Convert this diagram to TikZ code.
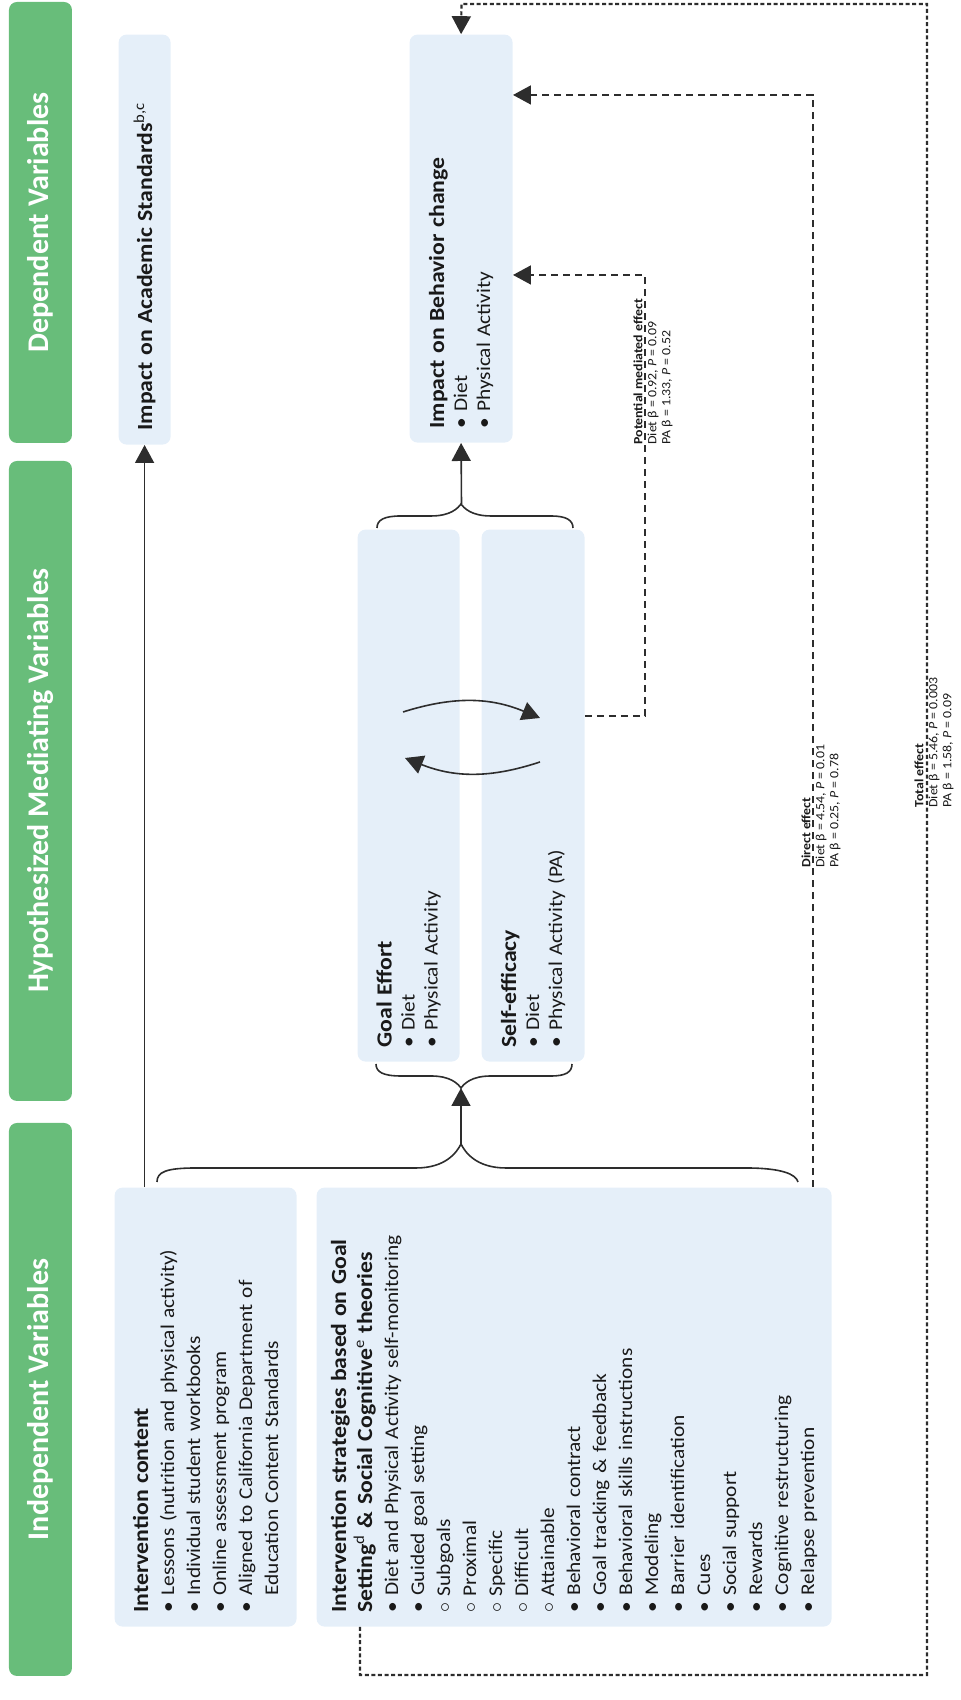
\documentclass[tikz,border=0pt]{standalone}
\usepackage{fontspec}
\setmainfont{Carlito}[FakeStretch=1.1]
\newfontfamily\hdrfont{Carlito}
\usetikzlibrary{arrows.meta}

\definecolor{hdrgreen}{RGB}{104,189,122}
\definecolor{boxblue}{RGB}{229,239,249}
\definecolor{inkgray}{RGB}{45,45,45}

\tikzstyle{header} = [rectangle, rounded corners=4pt, fill=hdrgreen, text=white, inner sep=0pt,
minimum height=31.5pt, font=\hdrfont\fontsize{15}{17}\selectfont\bfseries]
\tikzstyle{varbox} = [rectangle, rounded corners=4pt, fill=boxblue, anchor=south west, align=left,
inner xsep=7pt, inner ysep=0pt, text=black!90, font=\fontsize{9.7}{13}\selectfont]
\tikzstyle{smallbox} = [varbox, font=\fontsize{9.7}{11.5}\selectfont]
\tikzstyle{stat} = [anchor=west, align=left, inner sep=0pt, text=black!90, font=\fontsize{6.3}{7}\selectfont]
\tikzstyle{arrow} = [line width=0.8pt, draw=inkgray, -{Triangle[length=9pt, width=9.5pt]}]
\tikzstyle{effect} = [line width=0.9pt, draw=inkgray, dash pattern=on 3.5pt off 2.5pt, -{Triangle[length=9pt, width=9.5pt]}]
\tikzstyle{totaleffect} = [effect, line width=1.1pt, dash pattern=on 2pt off 1.3pt]
\tikzstyle{brace} = [line width=0.8pt, draw=inkgray]

\newcommand{\ttl}[1]{\mbox{\fontsize{10.8}{13}\selectfont\bfseries #1}}
\newcommand{\bul}{\textbullet\ }
\newcommand{\subbul}{$\circ$\ }

\begin{document}
\begin{tikzpicture}[x=0.5pt, y=0.5pt, rotate=90, transform shape]
\useasboundingbox (0,0) rectangle (1700,961);

% Column headers
\node (hdrIV) [header, minimum width=276.5pt] at (300.5,920.5) {Independent Variables};
\node (hdrMed) [header, minimum width=320pt] at (919,920.5) {Hypothesized Mediating Variables};
\node (hdrDV) [header, minimum width=220.5pt] at (1477.5,920.5) {Dependent Variables};

% Independent variables
\node (content) [varbox, text width=205.5pt, minimum height=91pt] at (73,664) {\ttl{Intervention content}\\
\bul Lessons (nutrition and physical activity)\\
\bul Individual student workbooks\\
\bul Online assessment program\\
\bul Aligned to California Department of\\
\hphantom{\bul}Education Content Standards};
\node (strategies) [varbox, text width=205.5pt, minimum height=257.5pt] at (73,129) {\ttl{Intervention strategies based on Goal}\\
\ttl{Setting\textsuperscript{\mdseries d} \& Social Cognitive\textsuperscript{\mdseries e} theories}\\
\bul Diet and Physical Activity self-monitoring\\
\bul Guided goal setting\\
\subbul Subgoals\\
\subbul Proximal\\
\subbul Specific\\
\subbul Difficult\\
\subbul Attainable\\
\bul Behavioral contract\\
\bul Goal tracking \& feedback\\
\bul Behavioral skills instructions\\
\bul Modeling\\
\bul Barrier identification\\
\bul Cues\\
\bul Social support\\
\bul Rewards\\
\bul Cognitive restructuring\\
\bul Relapse prevention};

% Mediators
\node (goal) [smallbox, text width=252pt, minimum height=51pt] at (638,501) {\ttl{Goal Effort}\\
\bul Diet\\
\bul Physical Activity};
\node (self) [smallbox, text width=252pt, minimum height=51.5pt] at (638,376) {\ttl{Self-efficacy}\\
\bul Diet\\
\bul Physical Activity (PA)};

% Dependent variables
\node (acad) [varbox, text width=191pt, minimum height=26pt] at (1255,790) {\ttl{Impact on Academic Standards\textsuperscript{\mdseries b,c}}};
\node (behav) [smallbox, text width=190pt, minimum height=51.5pt] at (1257,448) {\ttl{Impact on Behavior change}\\
\bul Diet\\
\bul Physical Activity};

% Braces
\draw [brace] (518,804) .. controls (528,804) and (532,795) .. (532,765) -- (532,545)
  .. controls (532,515) and (548,504) .. (556,500) .. controls (548,496) and (532,485) .. (532,455)
  -- (532,215) .. controls (532,180) and (526,165) .. (518,163);
\draw [brace] (636,585) .. controls (628,585) and (624,578) .. (624,560) -- (624,530)
  .. controls (624,510) and (616,503) .. (612,500) .. controls (616,497) and (624,490) .. (624,470)
  -- (624,410) .. controls (624,395) and (628,389) .. (636,389);
\draw [brace] (1172,584) .. controls (1180,584) and (1184,577) .. (1184,560) -- (1184,530)
  .. controls (1184,510) and (1192,503) .. (1196,500) .. controls (1192,497) and (1184,490) .. (1184,470)
  -- (1184,410) .. controls (1184,395) and (1180,388) .. (1172,388);
\coordinate (ivtip) at (556,500);
\coordinate (medtip) at (612,500);
\coordinate (uptip) at (1196,499.5);

% Solid connections
\draw [arrow] (content.east |- acad) -- (acad.west);
\draw [arrow] (ivtip) -- (medtip);
\draw [arrow] (uptip) -- (behav.west);
\coordinate (arcA) at (988,558);
\coordinate (arcB) at (982,421);
\coordinate (arcC) at (938,421);
\coordinate (arcD) at (942,556);
\draw [arrow] (arcA) to[bend left=20] (arcB);
\draw [arrow] (arcC) to[bend left=20] (arcD);

% Effect paths
\coordinate (potbend1) at (984,316);
\coordinate (potbend2) at (1425,316);
\draw [effect] (potbend1 |- self.south) -- (potbend1) -- (potbend2) -- (potbend2 |- behav.south);
\coordinate (dirbend) at (1605,148);
\draw [effect] (strategies.east |- dirbend) -- (dirbend) -- (dirbend |- behav.south);
\coordinate (totfoot) at (25,601);
\coordinate (totlow) at (25,34);
\coordinate (tothigh) at (1696,34);
\coordinate (totdrop) at (1696,499.5);
\draw [totaleffect] (strategies.west |- totfoot) -- (totfoot) -- (totlow) -- (tothigh) -- (totdrop) -- (behav.east);

% Effect labels
\node (potlabel) [stat] at (1255,308) {\textbf{Potential mediated effect}\\Diet β = 0.92, \textit{P} = 0.09\\PA β = 1.33, \textit{P} = 0.52};
\node (dirlabel) [stat] at (832,140) {\textbf{Direct effect}\\Diet β = 4.54, \textit{P} = 0.01\\PA β = 0.25, \textit{P} = 0.78};
\node (totlabel) [stat] at (892,27) {\textbf{Total effect}\\Diet β = 5.46, \textit{P} = 0.003\\PA β = 1.58, \textit{P} = 0.09};

\end{tikzpicture}
\end{document}
